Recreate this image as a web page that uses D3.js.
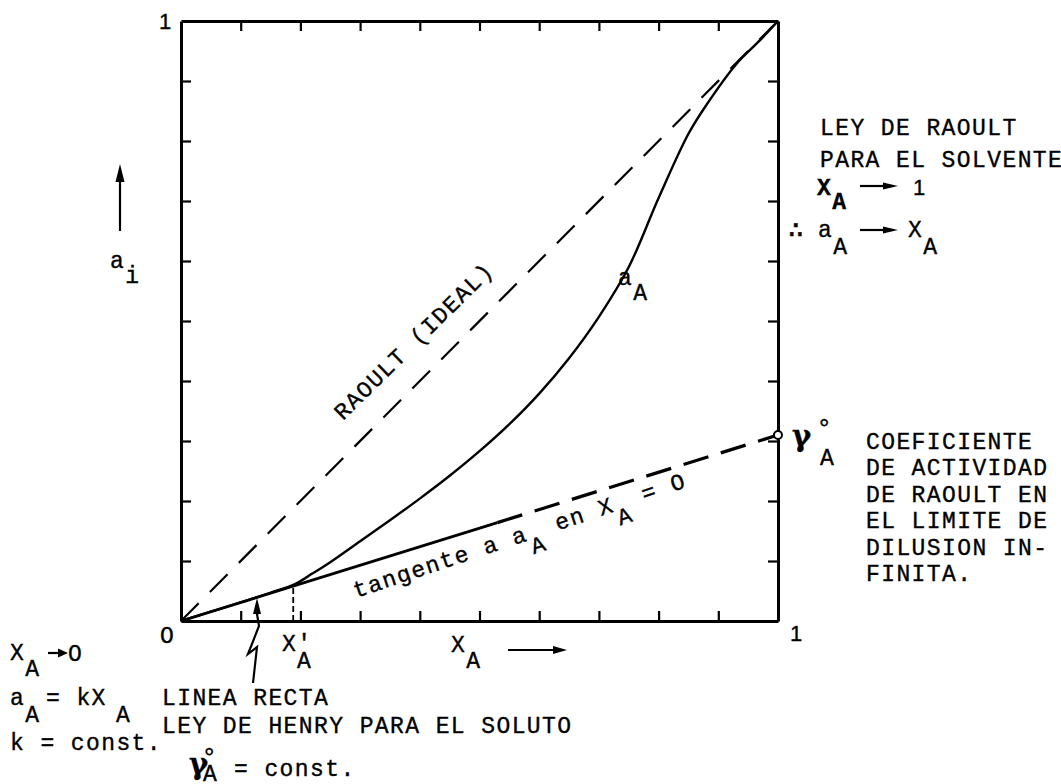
<!DOCTYPE html>
<html>
<head>
<meta charset="utf-8">
<script src="https://cdn.jsdelivr.net/npm/d3@7"></script>
<style>
body{margin:0;background:#fff;}
text{font-family:'Liberation Mono','DejaVu Sans Mono',monospace;font-size:23px;letter-spacing:1.4px;fill:#000;stroke:#000;stroke-width:0.35px;}
.sans{font-family:'Liberation Sans',Arial,sans-serif;letter-spacing:0;font-size:22px;}
.greek{font-family:'DejaVu Serif',serif;font-weight:bold;letter-spacing:0;font-size:29px;}
.deg{font-family:'Liberation Sans',Arial,sans-serif;letter-spacing:0;font-size:26px;}
</style>
</head>
<body>
<svg id="chart" width="1061" height="784"></svg>
<script>
// mole fraction X_A and activity a_A
var molFrac  = [0, 0.05, 0.10, 0.15, 0.19, 0.22, 0.25, 0.30, 0.35, 0.40, 0.45, 0.50, 0.55, 0.60, 0.65, 0.70, 0.75, 0.80, 0.85, 0.88, 0.93, 0.97, 1.0];
var activity = [0, 0.0155, 0.031, 0.047, 0.061, 0.079, 0.098, 0.133, 0.168, 0.204, 0.242, 0.283, 0.328, 0.379, 0.438, 0.507, 0.590, 0.705, 0.812, 0.860, 0.928, 0.968, 1.0];

// ideal (Raoult) line
var idealX = [0, 1];
var idealY = [0, 1];

// Henry tangent, solid part then dashed part, ends at gamma infinity
var henrySolidX = [0, 0.53];
var henrySolidY = [0, 0.164];
var henryDashX = [0.53, 1];
var henryDashY = [0.164, 0.31];

var xPrime = [0.188];
var xPrimeY = [0.058];

var tickVals = [0.1, 0.2, 0.3, 0.4, 0.5, 0.6, 0.7, 0.8, 0.9];

var svg = d3.select('#chart');

var x = d3.scaleLinear().domain([0, 1]).range([181, 778]);
var y = d3.scaleLinear().domain([0, 1]).range([621, 21]);

//frame with inward ticks on all four sides
function frame(axis, tr) {
	var g = svg.append('g')
		.attr('transform', tr)
		.call(axis.tickValues(tickVals).tickSize(-10).tickSizeOuter(0).tickFormat(''));
	g.select('.domain').style('stroke', '#000').style('stroke-width', 3);
	g.selectAll('.tick line').style('stroke', '#000').style('stroke-width', 2.2);
}
frame(d3.axisBottom(x), 'translate(0,621)');
frame(d3.axisTop(x), 'translate(0,21)');
frame(d3.axisLeft(y), 'translate(181,0)');
frame(d3.axisRight(y), 'translate(778,0)');

function pairs(xs, ys) {
	return xs.map(function(d, i) { return [d, ys[i]]; });
}

var line = d3.line()
	.x(function(d) { return x(d[0]); })
	.y(function(d) { return y(d[1]); });

//ideal dashed diagonal
svg.append('path')
	.attr('d', line(pairs(idealX, idealY)))
	.style('fill', 'none')
	.style('stroke', '#000')
	.style('stroke-width', 2.2)
	.style('stroke-dasharray', '25,16');

//henry tangent
svg.append('path')
	.attr('d', line(pairs(henrySolidX, henrySolidY)))
	.style('fill', 'none')
	.style('stroke', '#000')
	.style('stroke-width', 2.8);
svg.append('path')
	.attr('d', line(pairs(henryDashX, henryDashY)))
	.style('fill', 'none')
	.style('stroke', '#000')
	.style('stroke-width', 3.2)
	.style('stroke-dasharray', '26,13');
svg.append('circle')
	.attr('cx', x(henryDashX[1]))
	.attr('cy', y(henryDashY[1]))
	.attr('r', 4)
	.style('fill', '#fff')
	.style('stroke', '#000')
	.style('stroke-width', 2);

//activity curve
svg.append('path')
	.attr('d', line.curve(d3.curveCatmullRom.alpha(0.5))(pairs(molFrac, activity)))
	.style('fill', 'none')
	.style('stroke', '#000')
	.style('stroke-width', 2.4);

//X'A dashed drop line
svg.append('line')
	.attr('x1', x(xPrime[0]))
	.attr('x2', x(xPrime[0]))
	.attr('y1', y(0))
	.attr('y2', y(xPrimeY[0]))
	.style('stroke', '#000')
	.style('stroke-width', 1.8)
	.style('stroke-dasharray', '6,3');

//arrows
function arrow(x1, y1, x2, y2, len, half) {
	var a = Math.atan2(y2 - y1, x2 - x1);
	var bx = x2 - len * Math.cos(a), by = y2 - len * Math.sin(a);
	svg.append('line')
		.attr('x1', x1).attr('y1', y1).attr('x2', bx).attr('y2', by)
		.style('stroke', '#000').style('stroke-width', 2.2);
	svg.append('path')
		.attr('d', 'M' + x2 + ',' + y2 +
			'L' + (bx + half * Math.sin(a)) + ',' + (by - half * Math.cos(a)) +
			'L' + (bx - half * Math.sin(a)) + ',' + (by + half * Math.cos(a)) + 'Z')
		.style('fill', '#000');
}

//text with subscripts: parts = [text, drop, x]
function label(x0, y0, parts, cls, rot) {
	var t = svg.append('text').attr('x', x0).attr('y', y0);
	if (cls) t.attr('class', cls);
	if (rot) t.attr('transform', 'rotate(' + rot + ',' + x0 + ',' + y0 + ')');
	var shift = 0;
	parts.forEach(function(p) {
		var drop = p[1] || 0;
		var s = t.append('tspan').text(p[0]).attr('dy', drop - shift);
		if (p[2] != null) s.attr('x', p[2]);
		shift = drop;
	});
	return t;
}

//axis corner labels
label(159, 29, [['1']], 'sans');
label(160, 643, [['O']]);
label(790, 641, [['1']], 'sans');

//a_i with up arrow
arrow(120, 231, 120, 164, 18, 4.5);
label(110, 268, [['a'], ['i', 15]]);

//x axis labels
label(282, 651, [["X'"], ['A', 17, 297]]);
label(451, 652, [['X'], ['A', 16]]);
arrow(508, 650, 567, 650, 14, 4);

//rotated labels
label(343, 421, [['RAOULT (IDEAL)']], null, -44.5);
label(356, 598, [['tangente a a'], ['A', 15], [' en X', 0], ['A', 15], [' = O', 0]], null, -18.5);
label(618, 285, [['a'], ['A', 15]]);

//right upper block
label(820, 135, [['LEY DE RAOULT']]);
label(820, 167, [['PARA EL SOLVENTE']]);
label(817, 195, [['X'], ['A', 14]]).style('font-weight', 'bold');
arrow(860, 186, 898, 186, 15, 3.5);
label(913, 195, [['1']], 'sans');
label(788, 238, [['\u2234']]).style('font-size', '26px');
label(818, 237, [['a'], ['A', 17]]);
arrow(860, 230, 898, 230, 15, 3.5);
label(908, 237, [['X'], ['A', 17]]);

//gamma infinity note
label(792, 446, [['\u03b3']], 'greek');
label(819, 437, [['\u00b0']], 'deg');
label(820, 465, [['A']]);
var note = ['COEFICIENTE', 'DE ACTIVIDAD', 'DE RAOULT EN', 'EL LIMITE DE', 'DILUSION IN-', 'FINITA.'];
note.forEach(function(s, i) {
	label(866, 449 + i * 26.4, [[s]]);
});

//lower left block
label(10, 660, [['X'], ['A', 16]]);
arrow(48, 653, 68, 653, 10, 4.5);
label(68, 661, [['O']]);
label(10, 705, [['a'], ['A', 17], ['=', 0, 46], [' kX', 0], ['A', 17, 116]]);
label(10, 750, [['k = const.']]);

//henry note and pointer
label(162, 705, [['LINEA RECTA']]);
label(162, 733, [['LEY DE HENRY PARA EL SOLUTO']]);
svg.append('path')
	.attr('d', 'M253,683L257,647L248,654L259,626L257,614')
	.style('fill', 'none')
	.style('stroke', '#000')
	.style('stroke-width', 2.2);
arrow(257, 615, 257, 598, 16, 4);
label(189, 774, [['\u03b3']], 'greek');
label(204, 766, [['\u00b0']], 'deg');
label(203, 781, [['A']]);
label(234, 776, [['= const.']]);
</script>
</body>
</html>
